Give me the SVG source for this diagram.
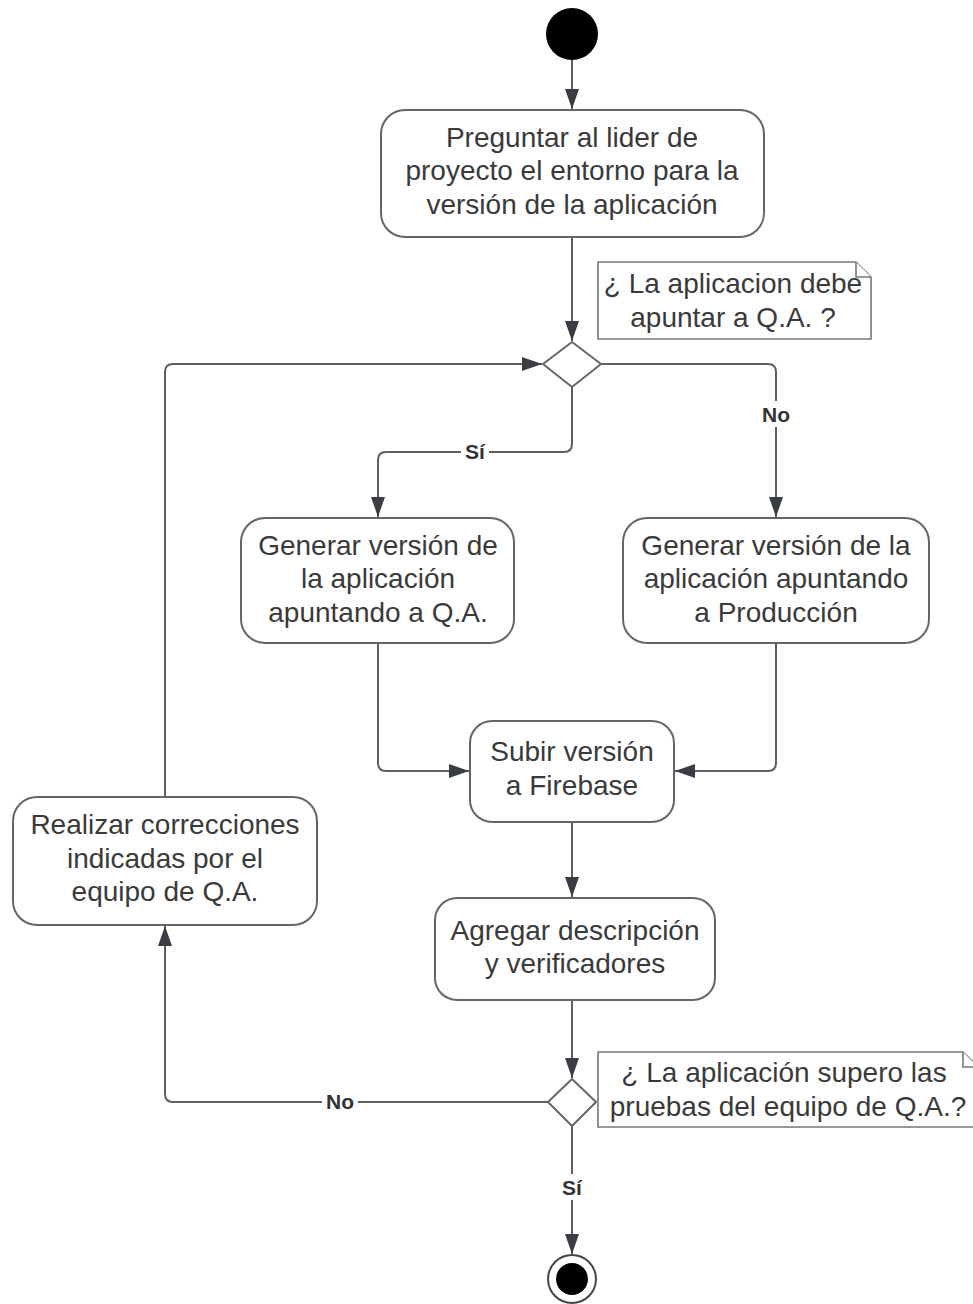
<svg xmlns="http://www.w3.org/2000/svg" width="973" height="1304" viewBox="0 0 973 1304">
  <style>
    .box { fill: #ffffff; stroke: #666666; stroke-width: 2; }
    .note { fill: #ffffff; stroke: #777777; stroke-width: 1.6; }
    .txt { font-family: "Liberation Sans", Arial, sans-serif; font-size: 28px; fill: #3a3a3a; text-anchor: middle; dominant-baseline: central; }
    .lbl { font-family: "Liberation Sans", Arial, sans-serif; font-size: 21px; font-weight: bold; fill: #333333; text-anchor: middle; dominant-baseline: central; }
    .edge { fill: none; stroke: #5f5f5f; stroke-width: 2; }
  </style>
  <defs>
    <marker id="arrow" markerWidth="20" markerHeight="14" refX="20" refY="7" orient="auto" markerUnits="userSpaceOnUse">
      <path d="M0,0 L20,7 L0,14 Z" fill="#3a3d42"/>
    </marker>
  </defs>
  <rect width="973" height="1304" fill="#ffffff"/>

  <!-- connectors -->
  <g id="connectors">
    <path class="edge" d="M572,60 V109" marker-end="url(#arrow)"/>
    <path class="edge" d="M572,237 V341" marker-end="url(#arrow)"/>
    <!-- yes branch -->
    <path class="edge" d="M572,387 V444 Q572,452 564,452 H386 Q378,452 378,460 V517" marker-end="url(#arrow)"/>
    <!-- no branch -->
    <path class="edge" d="M601,364 H768 Q776,364 776,372 V517" marker-end="url(#arrow)"/>
    <path class="edge" d="M378,643 V763 Q378,771 386,771 H469" marker-end="url(#arrow)"/>
    <path class="edge" d="M776,643 V763 Q776,771 768,771 H675" marker-end="url(#arrow)"/>
    <path class="edge" d="M572,822 V897" marker-end="url(#arrow)"/>
    <path class="edge" d="M572,1000 V1078" marker-end="url(#arrow)"/>
    <!-- retry loop -->
    <path class="edge" d="M548,1102 H173 Q165,1102 165,1094 V926" marker-end="url(#arrow)"/>
    <path class="edge" d="M165,797 V372 Q165,364 173,364 H542" marker-end="url(#arrow)"/>
    <path class="edge" d="M572,1126 V1254" marker-end="url(#arrow)"/>
    <!-- edge labels -->
    <rect x="461" y="439" width="28" height="26" fill="#ffffff"/>
    <text class="lbl" x="475" y="451">Sí</text>
    <rect x="759" y="401" width="34" height="26" fill="#ffffff"/>
    <text class="lbl" x="776" y="414">No</text>
    <rect x="322" y="1089" width="36" height="26" fill="#ffffff"/>
    <text class="lbl" x="340" y="1101">No</text>
    <rect x="558" y="1174" width="28" height="26" fill="#ffffff"/>
    <text class="lbl" x="572" y="1187">Sí</text>
  </g>

  <g id="start">
    <circle cx="572" cy="34" r="26" fill="#000000"/>
  </g>

  <g id="preguntar">
    <rect class="box" x="381" y="110" width="383" height="127" rx="24"/>
    <text class="txt" x="572" y="137">Preguntar al lider de</text>
    <text class="txt" x="572" y="170">proyecto el entorno para la</text>
    <text class="txt" x="572" y="204">versión de la aplicación</text>
  </g>

  <g id="nota-qa">
    <path class="note" d="M598,262 H856 L871,277 V339 H598 Z"/>
    <path class="note" d="M856,262 V277 H871" fill="none"/>
    <text class="txt" x="733" y="283">¿ La aplicacion debe</text>
    <text class="txt" x="733" y="317">apuntar a Q.A. ?</text>
  </g>

  <g id="decision-entorno">
    <path class="box" d="M572,342 L601,364 L572,387 L543,364 Z" stroke-linejoin="round"/>
  </g>

  <g id="generar-qa">
    <rect class="box" x="241" y="518" width="273" height="125" rx="24"/>
    <text class="txt" x="378" y="545">Generar versión de</text>
    <text class="txt" x="378" y="578">la aplicación</text>
    <text class="txt" x="378" y="612">apuntando a Q.A.</text>
  </g>

  <g id="generar-produccion">
    <rect class="box" x="623" y="518" width="306" height="125" rx="24"/>
    <text class="txt" x="776" y="545">Generar versión de la</text>
    <text class="txt" x="776" y="578">aplicación apuntando</text>
    <text class="txt" x="776" y="612">a Producción</text>
  </g>

  <g id="subir-firebase">
    <rect class="box" x="470" y="721" width="204" height="101" rx="22"/>
    <text class="txt" x="572" y="751">Subir versión</text>
    <text class="txt" x="572" y="785">a Firebase</text>
  </g>

  <g id="agregar-descripcion">
    <rect class="box" x="435" y="898" width="280" height="102" rx="22"/>
    <text class="txt" x="575" y="930">Agregar descripción</text>
    <text class="txt" x="575" y="963">y verificadores</text>
  </g>

  <g id="decision-pruebas">
    <path class="box" d="M572,1079 L596,1102 L572,1126 L548,1102 Z" stroke-linejoin="round"/>
  </g>

  <g id="nota-pruebas">
    <path class="note" d="M598,1052 H963 L978,1067 V1127 H598 Z"/>
    <path class="note" d="M963,1052 V1067 H978" fill="none"/>
    <text class="txt" x="784" y="1072">¿ La aplicación supero las</text>
    <text class="txt" x="788" y="1106">pruebas del equipo de Q.A.?</text>
  </g>

  <g id="realizar-correcciones">
    <rect class="box" x="13" y="797" width="304" height="128" rx="24"/>
    <text class="txt" x="165" y="824">Realizar correcciones</text>
    <text class="txt" x="165" y="858">indicadas por el</text>
    <text class="txt" x="165" y="891">equipo de Q.A.</text>
  </g>

  <g id="end">
    <circle cx="572" cy="1279" r="24" fill="#ffffff" stroke="#444444" stroke-width="2"/>
    <circle cx="572" cy="1279" r="16" fill="#000000"/>
  </g>
</svg>
